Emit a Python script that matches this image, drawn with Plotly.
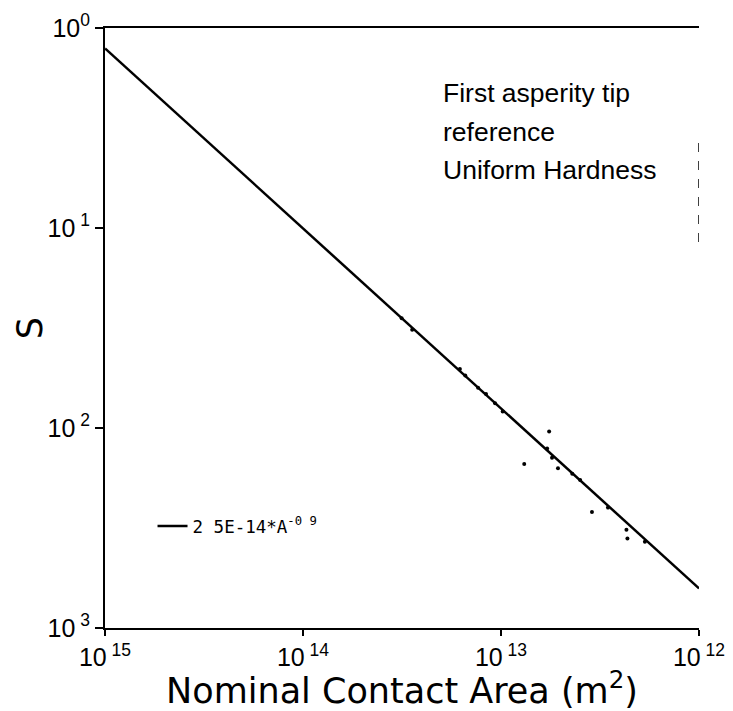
import plotly.graph_objects as go

# Power-law fit of surface parameter S against nominal contact area A
fit_coef = 2.5e-14
fit_exp = -0.9
fit_label = "2 5E-14*A<sup>-0 9</sup>"
fit_x = [1e-15, 1e-12]

# Measured points (nominal contact area in m^2, S)
area = [3.15e-14, 3.56e-14, 6.2e-14, 6.6e-14, 7.66e-14, 8.4e-14, 9.33e-14,
        1.02e-13, 1.75e-13, 1.71e-13, 1.81e-13, 1.94e-13, 2.29e-13, 2.51e-13,
        1.31e-13, 2.88e-13, 3.47e-13, 4.3e-13, 4.35e-13, 5.33e-13]
s_val = [0.0354, 0.031, 0.0197, 0.0183, 0.0159, 0.0148, 0.0133,
         0.0121, 0.0096, 0.0079, 0.0071, 0.0063, 0.0059, 0.0055,
         0.0066, 0.0038, 0.0040, 0.0031, 0.0028, 0.0027]

x_ticks = [1e-15, 1e-14, 1e-13, 1e-12]
x_ticktext = ["10<sup>\u00a015</sup>", "10<sup>\u00a014</sup>",
              "10<sup>\u00a013</sup>", "10<sup>\u00a012</sup>"]
y_ticks = [1, 0.1, 0.01, 0.001]
y_ticktext = ["10<sup>0</sup>", "10<sup>\u00a01</sup>",
              "10<sup>\u00a02</sup>", "10<sup>\u00a03</sup>"]

y_title = "S"
x_title = "Nominal Contact Area (m<sup>2</sup>)"
notes = ["First asperity tip", "reference", "Uniform Hardness"]

fit_y = [fit_coef * a ** fit_exp for a in fit_x]

fig = go.Figure()
fig.add_trace(go.Scatter(
    x=fit_x, y=fit_y, mode="lines", name=fit_label,
    line=dict(color="black", width=2.5),
))
fig.add_trace(go.Scatter(
    x=area, y=s_val, mode="markers", showlegend=False,
    marker=dict(color="black", size=4, symbol="circle"),
))

axis_font = dict(family="Liberation Sans Narrow, Arial Narrow, Liberation Sans, sans-serif",
                 size=25, color="black")
title_font = dict(family="DejaVu Sans, sans-serif", size=35, color="black")

fig.update_xaxes(
    type="log", range=[-15, -12],
    tickvals=x_ticks, ticktext=x_ticktext, tickfont=axis_font,
    ticks="outside", ticklen=6, tickwidth=1.5, tickcolor="black",
    showline=True, linecolor="black", linewidth=2, mirror=True,
    showgrid=False, zeroline=False,
    title=dict(text=x_title, font=title_font, standoff=9),
)
fig.update_yaxes(
    type="log", range=[-3, 0],
    tickvals=y_ticks, ticktext=y_ticktext, tickfont=axis_font,
    ticks="outside", ticklen=8, tickwidth=1.5, tickcolor="black",
    showline=True, linecolor="black", linewidth=2, mirror=False,
    showgrid=False, zeroline=False,
)

# rotated y-axis title placed beside the tick labels
fig.add_annotation(text=y_title, xref="paper", yref="paper", x=-0.126, y=0.5,
                   xanchor="center", yanchor="middle", textangle=-90,
                   showarrow=False, font=title_font)

# broken right-hand frame segment
fig.add_shape(type="line", xref="x", yref="y",
              x0=1e-12, x1=1e-12, y0=10 ** -0.575, y1=10 ** -1.1,
              line=dict(color="black", width=1.5, dash="dash"))

note_y = [0.892, 0.827, 0.763]
for txt, yy in zip(notes, note_y):
    fig.add_annotation(text=txt, xref="paper", yref="paper", x=0.5657, y=yy,
                       xanchor="left", yanchor="middle", showarrow=False,
                       font=dict(family="Liberation Sans, Arial, sans-serif",
                                 size=26.5, color="black"))

fig.update_layout(
    width=733, height=711,
    margin=dict(l=105, r=34, t=28, b=83, autoexpand=False),
    plot_bgcolor="white", paper_bgcolor="white",
    showlegend=True,
    legend=dict(x=0.08, y=0.17, xanchor="left", yanchor="middle",
                bgcolor="rgba(0,0,0,0)", borderwidth=0,
                font=dict(family="DejaVu Sans Mono, monospace", size=17.5, color="black")),
)

fig.write_html("out.html")
